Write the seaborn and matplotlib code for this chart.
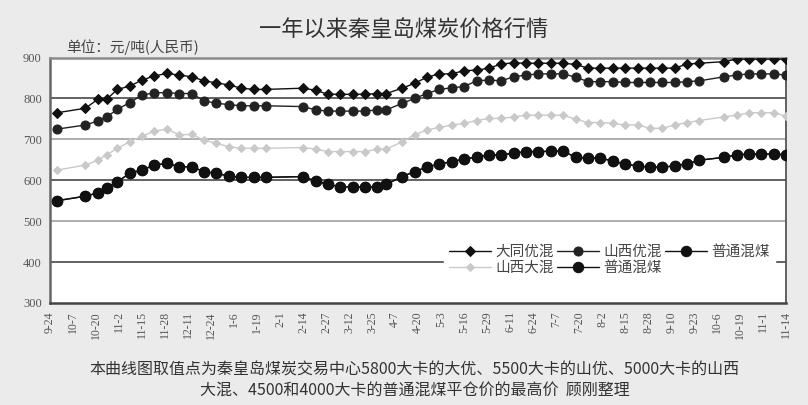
import pandas as pd
import matplotlib.pyplot as plt
import seaborn as sns

# weekly quote dates (Qinhuangdao), Sept 2010 - Nov 2011
dates = ['2010-09-28', '2010-10-14', '2010-10-21', '2010-10-26', '2010-11-01', '2010-11-08',
         '2010-11-15', '2010-11-22', '2010-11-29', '2010-12-06', '2010-12-13', '2010-12-20',
         '2010-12-27', '2011-01-03', '2011-01-10', '2011-01-17', '2011-01-24',
         '2011-02-14', '2011-02-21', '2011-02-28', '2011-03-07', '2011-03-14', '2011-03-21',
         '2011-03-28', '2011-04-02', '2011-04-11', '2011-04-18', '2011-04-25', '2011-05-02',
         '2011-05-09', '2011-05-16', '2011-05-23', '2011-05-30', '2011-06-06', '2011-06-13',
         '2011-06-20', '2011-06-27',
         '2011-07-04', '2011-07-11', '2011-07-18', '2011-07-25', '2011-08-01', '2011-08-08',
         '2011-08-15', '2011-08-22', '2011-08-29', '2011-09-05', '2011-09-12', '2011-09-19',
         '2011-09-26', '2011-10-10', '2011-10-17', '2011-10-24', '2011-10-31', '2011-11-07',
         '2011-11-14']

datong_you = [765, 776, 798, 798, 822, 830, 845, 855, 861, 857, 853, 843, 838, 833, 825, 822, 822,
              825, 820, 810, 810, 810, 810, 812, 812, 825, 837, 852, 860, 860, 868, 869, 874, 884,
              887, 886, 886,
              886, 886, 883, 874, 874, 874, 874, 874, 874, 874, 874, 884, 886, 890, 896, 896, 896,
              896, 896]
shanxi_you = [725, 735, 745, 755, 773, 790, 808, 814, 814, 812, 812, 794, 788, 785, 782, 782, 782,
              780, 772, 769, 769, 769, 769, 772, 772, 788, 800, 812, 822, 826, 829, 843, 845, 843,
              853, 857, 860,
              860, 860, 852, 841, 841, 841, 839, 839, 839, 839, 839, 841, 843, 853, 857, 860, 860,
              860, 857]
shanxi_da = [625, 637, 649, 662, 678, 694, 708, 720, 725, 711, 712, 698, 690, 682, 678, 678, 678,
             680, 676, 670, 670, 670, 670, 676, 676, 694, 711, 723, 729, 735, 739, 746, 751, 751,
             755, 759, 759,
             759, 759, 749, 741, 741, 739, 735, 735, 727, 727, 735, 741, 746, 755, 759, 765, 765,
             765, 757]
puhun_4500 = [550, 561, 569, 582, 596, 617, 625, 637, 641, 633, 633, 621, 617, 610, 607, 607, 607,
              609, 598, 590, 584, 584, 584, 584, 590, 609, 621, 632, 640, 645, 652, 656, 662, 662,
              666, 670, 670,
              671, 671, 656, 654, 654, 647, 639, 635, 632, 632, 635, 640, 649, 656, 662, 664, 664,
              664, 662]
# the second 普通混煤 series lies exactly on top of the first one in the chart
puhun_4000 = [550, 561, 569, 582, 596, 617, 625, 637, 641, 633, 633, 621, 617, 610, 607, 607, 607,
              609, 598, 590, 584, 584, 584, 584, 590, 609, 621, 632, 640, 645, 652, 656, 662, 662,
              666, 670, 670,
              671, 671, 656, 654, 654, 647, 639, 635, 632, 632, 635, 640, 649, 656, 662, 664, 664,
              664, 662]

y_ticks = [300, 400, 500, 600, 700, 800, 900]

sns.set_style('white')
plt.rcParams['font.family'] = ['Noto Sans CJK SC', 'DejaVu Sans']

df = pd.DataFrame({
    'date': pd.to_datetime(dates),
    '大同优混': datong_you,
    '山西优混': shanxi_you,
    '山西大混': shanxi_da,
    '普通混煤4500': puhun_4500,
    '普通混煤4000': puhun_4000,
})

fig = plt.figure(figsize=(8.08, 4.05), dpi=100, facecolor='#ebebeb')
ax = fig.add_axes([0.062, 0.252, 0.911, 0.606])
ax.set_facecolor('white')

# horizontal gridlines (500 and 700 drawn lighter)
for v in y_ticks[1:-1]:
    c = '#a8a8a8' if v in (500, 700) else '#555555'
    ax.axhline(v, color=c, lw=1.3, zorder=1)

styles = [
    ('普通混煤4000', 'o', 7.5, '#111111'),
    ('山西大混', 'D', 4.5, '#c9c9c9'),
    ('普通混煤4500', 'o', 7.5, '#111111'),
    ('山西优混', 'o', 6.5, '#222222'),
    ('大同优混', 'D', 5, '#111111'),
]
handles = {}
for col, mk, ms, colr in styles:
    sns.lineplot(data=df, x='date', y=col, marker=mk, markersize=ms, color=colr,
                 markeredgecolor=colr, linewidth=1.0, ax=ax, zorder=3)
    handles[col] = ax.lines[-1]

start = pd.Timestamp('2010-09-24')
end = pd.Timestamp('2011-11-14')
ax.set_xlim(start, end)
ax.set_ylim(300, 900)

xt = pd.date_range(start, end, freq='13D')
ax.set_xticks(xt)
ax.set_xticklabels([f'{d.month}-{d.day}' for d in xt], rotation=90,
                   fontsize=8.5, color='#555555', family='Liberation Serif')
ax.set_yticks(y_ticks)
ax.set_yticklabels([str(v) for v in y_ticks], fontsize=9, color='#555555',
                   family='Liberation Serif')
ax.tick_params(axis='x', direction='in', length=4, width=1, color='#444444', pad=6)
ax.tick_params(axis='y', length=0, pad=6)
ax.set_xlabel('')
ax.set_ylabel('')

ax.spines['left'].set_color('#666666')
ax.spines['left'].set_linewidth(1.8)
ax.spines['bottom'].set_color('#444444')
ax.spines['bottom'].set_linewidth(1.8)
ax.spines['top'].set_color('#8a8a8a')
ax.spines['top'].set_linewidth(1.8)
ax.spines['right'].set_color('#555555')
ax.spines['right'].set_linewidth(1.3)

order = ['大同优混', '山西大混', '山西优混', '普通混煤4500', '普通混煤4000']
labels = ['大同优混', '山西大混', '山西优混', '普通混煤', '普通混煤']
leg = ax.legend([handles[k] for k in order], labels, ncol=3, loc='center',
                bbox_to_anchor=(0.76, 0.175), frameon=True, fontsize=10.5,
                handlelength=2.9, handletextpad=0.3, columnspacing=0.2,
                labelspacing=0.15, borderpad=0.3, facecolor='white', edgecolor='white',
                framealpha=1)
for t in leg.get_texts():
    t.set_color('#444444')

fig.text(0.5, 0.925, '一年以来秦皇岛煤炭价格行情', ha='center', va='center',
         fontsize=16, color='#333333')
fig.text(0.082, 0.884, '单位：元/吨(人民币)', ha='left', va='center',
         fontsize=10.5, color='#444444')
fig.text(0.513, 0.087, '本曲线图取值点为秦皇岛煤炭交易中心5800大卡的大优、5500大卡的山优、5000大卡的山西',
         ha='center', va='center', fontsize=11.5, color='#333333')
fig.text(0.513, 0.035, '大混、4500和4000大卡的普通混煤平仓价的最高价  顾刚整理',
         ha='center', va='center', fontsize=11.5, color='#333333')

fig.savefig('out.png', dpi=100, facecolor=fig.get_facecolor())
